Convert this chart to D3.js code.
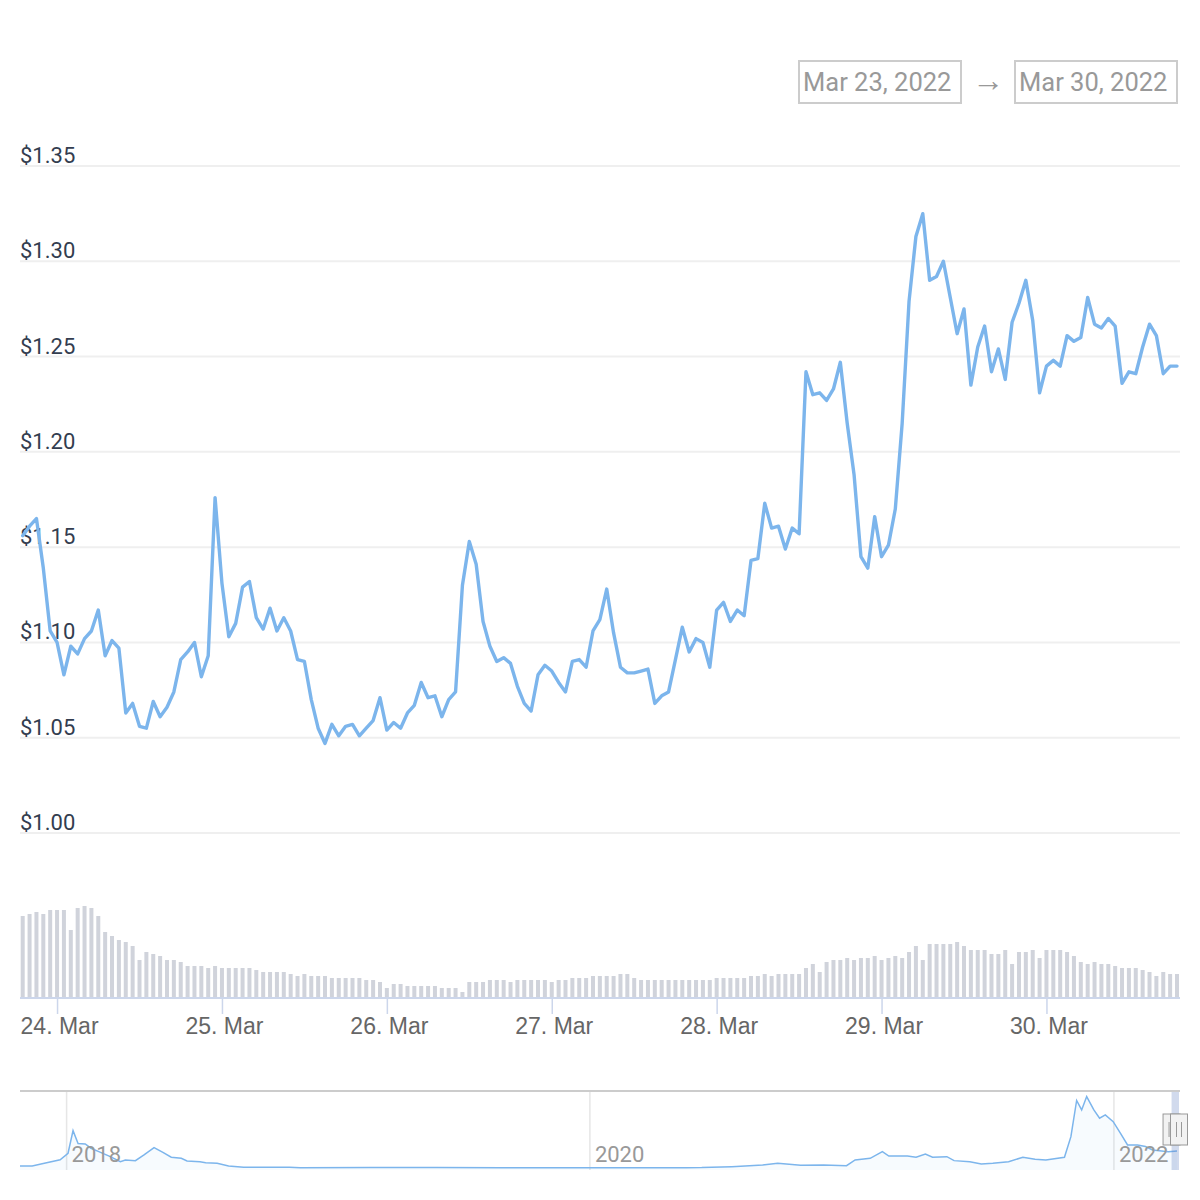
<!DOCTYPE html>
<html lang="en">
<head>
<meta charset="utf-8">
<script src="https://d3js.org/d3.v7.min.js"></script>
<style>
  body { margin: 0; padding: 0; background: #fff; }
  svg { display: block; font-family: Roboto, "Noto Sans", sans-serif; }
  .grid line { stroke: #efefef; stroke-width: 2; }
  .ylab { fill: #333d4f; font-size: 22px; }
  .xlab { fill: #666; font-size: 23px; }
  .navlab { fill: #999; font-size: 22px; }
  .range-text { fill: #999; font-size: 25.5px; }
</style>
</head>
<body>
<svg id="chart" width="1200" height="1200"></svg>
<script>
// hourly series, first point Mar 23 2022 19:00 UTC
const startTime = Date.UTC(2022, 2, 23, 19);

const prices = [
  1.156, 1.161, 1.165, 1.139, 1.106, 1.100, 1.083, 1.098, 1.094, 1.102,
  1.106, 1.117, 1.093, 1.101, 1.097, 1.063, 1.068, 1.056, 1.055, 1.069,
  1.061, 1.066, 1.074, 1.091, 1.095, 1.100, 1.082, 1.093, 1.176, 1.131,
  1.103, 1.110, 1.129, 1.132, 1.113, 1.107, 1.118, 1.106, 1.113, 1.106,
  1.091, 1.090, 1.070, 1.055, 1.047, 1.057, 1.051, 1.056, 1.057, 1.051,
  1.055, 1.059, 1.071, 1.054, 1.058, 1.055, 1.063, 1.067, 1.079, 1.071,
  1.072, 1.061, 1.070, 1.074, 1.130, 1.153, 1.141, 1.111, 1.098, 1.090,
  1.092, 1.089, 1.077, 1.068, 1.064, 1.083, 1.088, 1.085, 1.079, 1.074,
  1.090, 1.091, 1.087, 1.106, 1.112, 1.128, 1.105, 1.087, 1.084, 1.084,
  1.085, 1.086, 1.068, 1.072, 1.074, 1.091, 1.108, 1.095, 1.102, 1.100,
  1.087, 1.117, 1.121, 1.111, 1.117, 1.114, 1.143, 1.144, 1.173, 1.160,
  1.161, 1.149, 1.160, 1.157, 1.242, 1.230, 1.231, 1.227, 1.233, 1.247,
  1.215, 1.188, 1.145, 1.139, 1.166, 1.145, 1.151, 1.170, 1.215, 1.279,
  1.313, 1.325, 1.290, 1.292, 1.300, 1.281, 1.262, 1.275, 1.235, 1.255,
  1.266, 1.242, 1.254, 1.238, 1.268, 1.278, 1.290, 1.269, 1.231, 1.245,
  1.248, 1.245, 1.261, 1.258, 1.260, 1.281, 1.267, 1.265, 1.270, 1.266,
  1.236, 1.242, 1.241, 1.255, 1.267, 1.261, 1.241, 1.245, 1.245
];

// volume, millions
const volumes = [
  82, 84, 86, 84, 88, 88, 88, 68, 90, 92,
  90, 82, 66, 62, 58, 56, 52, 38, 46, 44,
  42, 38, 38, 36, 32, 32, 32, 30, 32, 30,
  30, 30, 30, 30, 28, 26, 26, 26, 26, 24,
  22, 24, 22, 22, 22, 20, 20, 20, 20, 20,
  18, 18, 16, 10, 14, 14, 12, 12, 12, 12,
  12, 10, 10, 10, 6, 16, 16, 16, 18, 18,
  18, 16, 18, 18, 18, 18, 18, 16, 18, 18,
  20, 20, 20, 22, 22, 22, 22, 24, 24, 20,
  18, 18, 18, 18, 18, 18, 18, 18, 18, 18,
  18, 20, 20, 20, 20, 20, 22, 22, 24, 22,
  24, 24, 24, 24, 30, 34, 26, 36, 38, 38,
  40, 38, 40, 40, 42, 38, 40, 42, 40, 46,
  52, 38, 54, 54, 54, 54, 56, 52, 48, 48,
  48, 44, 44, 48, 34, 46, 46, 48, 40, 48,
  48, 48, 46, 42, 36, 34, 36, 34, 34, 32,
  30, 30, 30, 28, 26, 22, 26, 24, 24
];

const priceTicks = [1.00, 1.05, 1.10, 1.15, 1.20, 1.25, 1.30, 1.35];

// long-term history shown in the navigator
const navDates = [
  "2017-10-28", "2017-11-14", "2017-12-01", "2017-12-23", "2018-01-03", "2018-01-10",
  "2018-01-17", "2018-01-27", "2018-02-04", "2018-02-15", "2018-03-03", "2018-03-17",
  "2018-03-24", "2018-04-07", "2018-04-19", "2018-05-03", "2018-05-16", "2018-05-27",
  "2018-06-10", "2018-06-18", "2018-07-06", "2018-07-14", "2018-07-30", "2018-08-15",
  "2018-09-05", "2018-10-07", "2018-11-08", "2018-11-23", "2019-03-01", "2019-06-01",
  "2019-09-01", "2019-12-01", "2020-03-01", "2020-05-15", "2020-06-05", "2020-07-17",
  "2020-08-29", "2020-09-19", "2020-10-21", "2020-11-22", "2020-12-24", "2021-01-05",
  "2021-01-26", "2021-02-12", "2021-02-21", "2021-03-19", "2021-03-31", "2021-04-13",
  "2021-04-23", "2021-05-13", "2021-05-23", "2021-06-14", "2021-06-30", "2021-07-16",
  "2021-08-07", "2021-08-27", "2021-09-13", "2021-09-28", "2021-10-24", "2021-11-02",
  "2021-11-10", "2021-11-17", "2021-11-24", "2021-12-04", "2021-12-12", "2021-12-20",
  "2021-12-31", "2022-01-10", "2022-01-20", "2022-02-03", "2022-02-14", "2022-02-24",
  "2022-03-18", "2022-03-30"
];
const navValues = [
  0.15, 0.15, 0.35, 0.60, 1.08, 2.74,
  1.80, 1.76, 1.45, 1.20, 0.83, 0.46,
  0.59, 0.54, 0.96, 1.49, 1.13, 0.79,
  0.71, 0.51, 0.46, 0.39, 0.35, 0.15,
  0.05, 0.05, 0.05, 0.02, 0.03, 0.04,
  0.02, 0.02, 0.02, 0.02, 0.03, 0.10,
  0.22, 0.35, 0.20, 0.22, 0.17, 0.59,
  0.71, 1.20, 0.88, 0.88, 0.79, 1.03,
  0.79, 0.83, 0.54, 0.46, 0.29, 0.35,
  0.46, 0.79, 0.64, 0.59, 0.79, 2.30,
  4.95, 4.26, 5.24, 4.26, 3.65, 3.90,
  3.40, 2.55, 1.69, 1.69, 1.57, 1.32,
  1.20, 1.245
];
const navYears = ["2018-01-01", "2020-01-01", "2022-01-01"];

const rangeFrom = "Mar 23, 2022";
const rangeTo = "Mar 30, 2022";

const times = prices.map((d, i) => new Date(startTime + i * 3600 * 1000));
const series = prices.map((p, i) => ({t: times[i], p: p, v: volumes[i]}));

const svg = d3.select('#chart');
const left = 20, right = 1180;

const x = d3.scaleUtc()
  .domain([times[0], times[times.length - 1]])
  .range([22.7, 1177]);
const y = d3.scaleLinear().domain([1.00, 1.35]).range([833, 166]);
const yVol = d3.scaleLinear().domain([0, 118]).range([998, 880]);

// range selector inputs
const inputs = svg.append('g');
[[rangeFrom, 799], [rangeTo, 1015]].forEach(([txt, bx]) => {
  inputs.append('rect')
    .attr('x', bx).attr('y', 61).attr('width', 162).attr('height', 42)
    .attr('fill', 'none').attr('stroke', '#cccccc').attr('stroke-width', 2);
  inputs.append('text').attr('class', 'range-text')
    .attr('x', bx + 4).attr('y', 91).text(txt);
});
inputs.append('text').attr('class', 'range-text')
  .attr('x', 988).attr('y', 91).attr('text-anchor', 'middle')
  .style('font-size', '32px').text('\u2192');

// price grid + labels
const grid = svg.append('g').attr('class', 'grid');
grid.selectAll('line').data(priceTicks).enter().append('line')
  .attr('x1', left).attr('x2', right)
  .attr('y1', d => y(d)).attr('y2', d => y(d));
svg.append('g').selectAll('text').data(priceTicks).enter().append('text')
  .attr('class', 'ylab')
  .attr('x', left).attr('y', d => y(d) - 3)
  .text(d => '$' + d.toFixed(2));

// volume bars
svg.append('g').selectAll('rect').data(series).enter().append('rect')
  .attr('x', d => x(d.t) - 2)
  .attr('y', d => yVol(d.v))
  .attr('width', 4)
  .attr('height', d => yVol(0) - yVol(d.v))
  .attr('fill', '#d0d3db');

// x axis
const xAxis = d3.axisBottom(x)
  .ticks(d3.utcDay.every(1))
  .tickSize(16)
  .tickPadding(2)
  .tickFormat(d3.utcFormat('%-d. %b'));
const gx = svg.append('g').attr('transform', 'translate(0,998)').call(xAxis);
gx.select('.domain').remove();
gx.append('line').attr('x1', left).attr('x2', right).attr('y1', 0).attr('y2', 0)
  .attr('stroke', '#ccd6eb').attr('stroke-width', 2);
gx.selectAll('.tick line').attr('stroke', '#ccd6eb').attr('stroke-width', 1.5);
gx.selectAll('.tick text').attr('class', 'xlab').attr('fill', null)
  .attr('font-family', null).attr('font-size', null)
  .attr('dx', 2).attr('dy', '0.8em');

// price line
const line = d3.line().x(d => x(d.t)).y(d => y(d.p));
svg.append('path').datum(series)
  .attr('d', line)
  .attr('fill', 'none')
  .attr('stroke', '#7cb5ec')
  .attr('stroke-width', 3.4)
  .attr('stroke-linejoin', 'round')
  .attr('stroke-linecap', 'round');

// navigator
const navData = navDates.map((d, i) => ({t: new Date(d + 'T00:00:00Z'), v: navValues[i]}));
const xNav = d3.scaleUtc()
  .domain([navData[0].t, navData[navData.length - 1].t])
  .range([left, 1177]);
const yNav = d3.scaleLinear().domain([0, 5.5]).range([1168, 1093]);
const nav = svg.append('g');

nav.selectAll('line.ng').data(navYears).enter().append('line')
  .attr('x1', d => xNav(new Date(d))).attr('x2', d => xNav(new Date(d)))
  .attr('y1', 1092).attr('y2', 1170)
  .attr('stroke', '#e6e6e6').attr('stroke-width', 1.5);

nav.append('path').datum(navData)
  .attr('d', d3.area().x(d => xNav(d.t)).y0(1170).y1(d => yNav(d.v)))
  .attr('fill', 'rgba(124,181,236,0.06)');
nav.append('path').datum(navData)
  .attr('d', d3.line().x(d => xNav(d.t)).y(d => yNav(d.v)))
  .attr('fill', 'none').attr('stroke', '#7cb5ec').attr('stroke-width', 1.5);

nav.selectAll('text').data(navYears).enter().append('text')
  .attr('class', 'navlab')
  .attr('x', d => xNav(new Date(d)) + 5).attr('y', 1162)
  .text(d => d.slice(0, 4));

// selected window mask
const selX0 = xNav(times[0]) - 1, selX1 = right - 1;
nav.append('rect')
  .attr('x', selX0).attr('y', 1091).attr('width', selX1 - selX0).attr('height', 79)
  .attr('fill', 'rgba(102,133,194,0.3)');
nav.append('line')
  .attr('x1', left).attr('x2', right).attr('y1', 1091).attr('y2', 1091)
  .attr('stroke', '#cccccc').attr('stroke-width', 2);

// handles
[selX0, selX1].forEach(hx => {
  const h = nav.append('g').attr('transform', `translate(${hx},1114)`);
  h.append('rect').attr('x', -8.5).attr('y', 0).attr('width', 17).attr('height', 31)
    .attr('fill', '#f2f2f2').attr('stroke', '#999999').attr('stroke-width', 1);
  [-2.5, 2.5].forEach(dx => h.append('line')
    .attr('x1', dx).attr('x2', dx).attr('y1', 8).attr('y2', 23)
    .attr('stroke', '#999999').attr('stroke-width', 1));
});
</script>
</body>
</html>
